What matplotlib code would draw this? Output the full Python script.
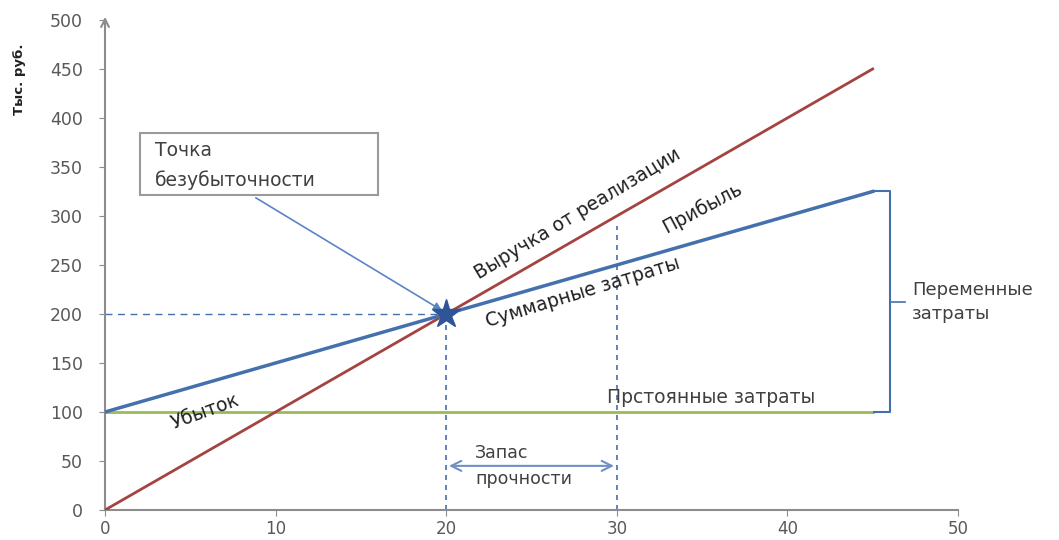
import numpy as np
import matplotlib.pyplot as plt
from matplotlib.patches import Rectangle

# data
x_end = 45
volume = [0, x_end]
revenue = [0, 450]
total_costs = [100, 325]
fixed_costs = [100, 100]
breakeven_x, breakeven_y = 20, 200
plan_x = 30
x_ticks = [0, 10, 20, 30, 40, 50]
y_ticks = [0, 50, 100, 150, 200, 250, 300, 350, 400, 450, 500]

RED = '#A4433F'
BLUE = '#4470AE'
GREEN = '#9BBB59'
GREY = '#8C8C8C'
TXT = '#404040'
FS = 13.5

plt.rcParams['font.family'] = ['DejaVu Sans']

fig = plt.figure(figsize=(10.59, 5.4), dpi=100)
ax = fig.add_axes([0.0992, 0.0556, 0.8054, 0.9074])

ax.plot(volume, revenue, color=RED, lw=2, zorder=3)
ax.plot(volume, total_costs, color=BLUE, lw=2.5, zorder=3)
ax.plot(volume, fixed_costs, color=GREEN, lw=2, zorder=2)

# guide lines to the break-even point and the planned volume
ax.plot([0, breakeven_x], [breakeven_y, breakeven_y], color=BLUE, lw=1, ls=(0, (5, 4)))
ax.plot([breakeven_x, breakeven_x], [0, breakeven_y], color=BLUE, lw=1.2, ls=(0, (3, 3)))
ax.plot([plan_x, plan_x], [0, 290], color=BLUE, lw=1.2, ls=(0, (3, 3)))
ax.plot(breakeven_x, breakeven_y, marker='*', ms=21, color='#2E5597', zorder=5)

# safety margin arrow
ax.annotate('', xy=(breakeven_x, 45), xytext=(plan_x, 45),
            arrowprops=dict(arrowstyle='<->', color='#6F8FC7', lw=1.5, mutation_scale=18))
ax.text(21.7, 49, 'Запас', fontsize=FS - 1, color=TXT, va='bottom')
ax.text(21.7, 41, 'прочности', fontsize=FS - 1, color=TXT, va='top')

# bracket for variable costs
bx = 46.0
ax.plot([x_end + 0.1, bx, bx, x_end + 0.1], [total_costs[1], total_costs[1], fixed_costs[1], fixed_costs[1]],
        color=BLUE, lw=1.5, clip_on=False)
mid = (total_costs[1] + fixed_costs[1]) / 2
ax.plot([bx, bx + 0.9], [mid, mid], color=BLUE, lw=1.2, clip_on=False)
ax.text(47.3, mid, 'Переменные\nзатраты', fontsize=FS - 0.5, color=TXT, va='center', ha='left',
        linespacing=1.4, clip_on=False)

# break-even callout
ax.add_patch(Rectangle((2.05, 321), 13.95, 64, fc='white', ec='#9A9A9A', lw=1.5, zorder=4))
ax.text(2.9, 367, 'Точка', fontsize=FS, color=TXT, va='center', ha='left', zorder=5)
ax.text(2.9, 337, 'безубыточности', fontsize=FS, color=TXT, va='center', ha='left', zorder=5)
ax.annotate('', xy=(breakeven_x - 0.1, breakeven_y + 2), xytext=(8.7, 320),
            arrowprops=dict(arrowstyle='-|>', color='#5B85C2', lw=1.2, mutation_scale=12))

# line labels
ax.text(27.7, 302, 'Выручка от реализации', fontsize=FS, color='#202020',
        rotation=31, ha='center', va='center')
ax.text(35.0, 308, 'Прибыль', fontsize=FS, color='#202020', rotation=28, ha='center', va='center')
ax.text(28.0, 222, 'Суммарные затраты', fontsize=FS, color='#202020', rotation=17, ha='center', va='center')
ax.text(5.9, 100, 'Убыток', fontsize=FS, color='#202020', rotation=20, ha='center', va='center')
ax.text(35.5, 115, 'Прстоянные затраты', fontsize=FS, color=TXT, ha='center', va='center')

ax.set_xlim(0, 50)
ax.set_ylim(0, 500)
ax.set_xticks(x_ticks)
ax.set_yticks(y_ticks)
ax.tick_params(colors=GREY, labelcolor='#595959', labelsize=12.5, length=4)
ax.tick_params(axis='y', pad=12)
ax.tick_params(axis='x', pad=3, labelsize=12)
for s in ['top', 'right']:
    ax.spines[s].set_visible(False)
for s in ['left', 'bottom']:
    ax.spines[s].set_color(GREY)
    ax.spines[s].set_linewidth(1.5)

# arrow at the top of the value axis
ax.annotate('', xy=(0, 1.012), xytext=(0, 0.98), xycoords='axes fraction',
            arrowprops=dict(arrowstyle='->', color=GREY, lw=1.5, mutation_scale=14))

ax.text(-0.1, 0.88, 'Тыс. руб.', transform=ax.transAxes, rotation=90, fontsize=9.5,
        fontweight='bold', color='#202020', ha='center', va='center')

fig.savefig('out.png', dpi=100)
